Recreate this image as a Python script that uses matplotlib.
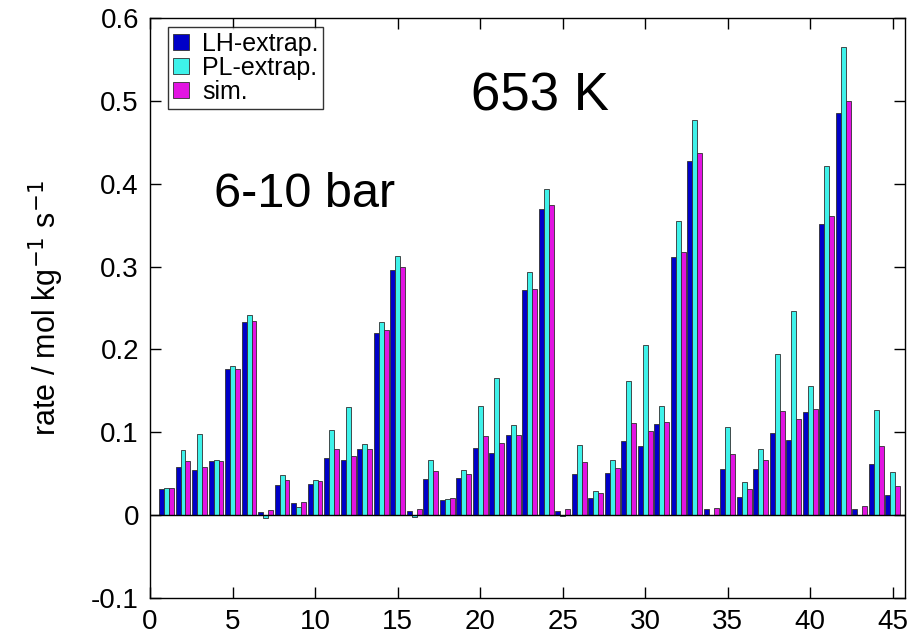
import matplotlib
matplotlib.use("Agg")
import matplotlib.pyplot as plt
import numpy as np

plt.rcParams['font.family'] = ['Liberation Sans', 'DejaVu Sans']

positions = list(range(1, 46))
lh_extrap = [0.031, 0.058, 0.055, 0.065, 0.177, 0.233, 0.004, 0.037, 0.015,
             0.038, 0.069, 0.066, 0.080, 0.220, 0.296, 0.005, 0.044, 0.018,
             0.045, 0.081, 0.075, 0.097, 0.272, 0.370, 0.005, 0.050, 0.021,
             0.051, 0.090, 0.083, 0.110, 0.312, 0.428, 0.007, 0.056, 0.022,
             0.056, 0.099, 0.091, 0.124, 0.352, 0.485, 0.007, 0.062, 0.024]
pl_extrap = [0.033, 0.079, 0.098, 0.067, 0.180, 0.242, -0.003, 0.049, 0.010,
             0.043, 0.103, 0.130, 0.086, 0.233, 0.313, -0.002, 0.066, 0.019,
             0.055, 0.132, 0.166, 0.109, 0.294, 0.394, -0.001, 0.085, 0.029,
             0.067, 0.162, 0.205, 0.132, 0.355, 0.477, 0.000, 0.106, 0.040,
             0.080, 0.194, 0.246, 0.156, 0.421, 0.565, 0.000, 0.127, 0.052]
sim = [0.033, 0.065, 0.058, 0.065, 0.177, 0.234, 0.006, 0.043, 0.016,
       0.041, 0.080, 0.072, 0.080, 0.223, 0.299, 0.007, 0.053, 0.021,
       0.050, 0.096, 0.087, 0.097, 0.273, 0.374, 0.008, 0.064, 0.027,
       0.057, 0.111, 0.102, 0.113, 0.318, 0.437, 0.009, 0.074, 0.031,
       0.066, 0.126, 0.116, 0.128, 0.361, 0.500, 0.011, 0.084, 0.035]
series_names = ['LH-extrap.', 'PL-extrap.', 'sim.']
colors = ['#0000c8', '#3ef2ea', '#e214e2']
ytick_vals = [-0.1, 0, 0.1, 0.2, 0.3, 0.4, 0.5, 0.6]
ytick_labels = ['-0.1', '0', '0.1', '0.2', '0.3', '0.4', '0.5', '0.6']

fig = plt.figure(figsize=(9.18, 6.44), dpi=100)
ax = fig.add_axes([0.1634, 0.0714, 0.8226, 0.9006])

x = np.array(positions, dtype=float)
w = 0.3
for k, (vals, name, c) in enumerate(zip([lh_extrap, pl_extrap, sim], series_names, colors)):
    ax.bar(x + (k - 1) * w, vals, width=w, color=c, edgecolor='#303030',
           linewidth=0.6, label=name)

ax.axhline(0, color='black', linewidth=1.0)
ax.set_xlim(0, 45.75)
ax.set_ylim(-0.1, 0.6)
ax.set_xticks(range(0, 46, 5))
ax.set_yticks(ytick_vals)
ax.set_yticklabels(ytick_labels)
ax.tick_params(direction='in', length=8, width=1.0, top=True, right=True,
               labelsize=20, pad=8)
for s in ax.spines.values():
    s.set_linewidth(1.0)

ax.set_ylabel('rate / mol kg$^{-1}$ s$^{-1}$', fontsize=22, labelpad=18)

leg = ax.legend(loc='upper left', fontsize=18, frameon=True, fancybox=False,
                edgecolor='black', handlelength=0.65, handleheight=0.65,
                handletextpad=0.5, labelspacing=0.0, borderpad=0.2,
                borderaxespad=0.0, bbox_to_anchor=(0.024, 0.985))
leg.get_frame().set_linewidth(1.0)

ax.text(19.45, 0.4885, '653 K', fontsize=38)
ax.text(3.85, 0.3715, '6-10 bar', fontsize=35)

fig.savefig('out.png', dpi=100)
